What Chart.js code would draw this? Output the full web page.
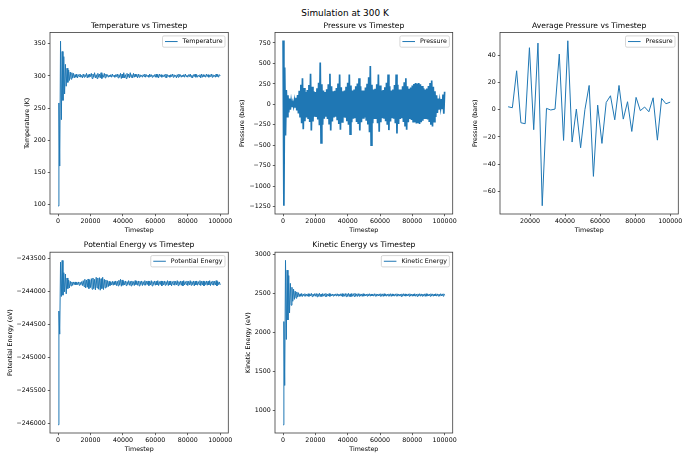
<!DOCTYPE html>
<html>
<head>
<meta charset="utf-8">
<script src="https://cdn.jsdelivr.net/npm/chart.js@4.4.0/dist/chart.umd.min.js"></script>
<style>
  html, body { margin: 0; padding: 0; background: #fff; }
  #wrap { position: relative; width: 690px; height: 460px; overflow: hidden; font-family: 'DejaVu Sans', sans-serif; }
  #suptitle { position: absolute; left: 0; top: 7.3px; width: 690px; text-align: center; font-size: 8.9px; line-height: 12px; color: #000; }
  canvas { position: absolute; }
</style>
</head>
<body>
<div id="wrap">
  <div id="suptitle">Simulation at 300 K</div>
  <canvas id="c1"></canvas>
  <canvas id="c2"></canvas>
  <canvas id="c3"></canvas>
  <canvas id="c4"></canvas>
  <canvas id="c5"></canvas>
</div>
<script>
// timesteps shared by the four raw series
var timesteps = [
  0, 500, 1000, 1500, 2000, 2500, 3000, 3500, 4000, 4500,
  5000, 5500, 6000, 6500, 7000, 7500, 8000, 8500, 9000, 9500,
  10000, 10500, 11000, 11500, 12000, 12500, 13000, 13500, 14000, 14500,
  15000, 15500, 16000, 16500, 17000, 17500, 18000, 18500, 19000, 19500,
  20000, 20500, 21000, 21500, 22000, 22500, 23000, 23500, 24000, 24500,
  25000, 25500, 26000, 26500, 27000, 27500, 28000, 28500, 29000, 29500,
  30000, 30500, 31000, 31500, 32000, 32500, 33000, 33500, 34000, 34500,
  35000, 35500, 36000, 36500, 37000, 37500, 38000, 38500, 39000, 39500,
  40000, 40500, 41000, 41500, 42000, 42500, 43000, 43500, 44000, 44500,
  45000, 45500, 46000, 46500, 47000, 47500, 48000, 48500, 49000, 49500,
  50000, 50500, 51000, 51500, 52000, 52500, 53000, 53500, 54000, 54500,
  55000, 55500, 56000, 56500, 57000, 57500, 58000, 58500, 59000, 59500,
  60000, 60500, 61000, 61500, 62000, 62500, 63000, 63500, 64000, 64500,
  65000, 65500, 66000, 66500, 67000, 67500, 68000, 68500, 69000, 69500,
  70000, 70500, 71000, 71500, 72000, 72500, 73000, 73500, 74000, 74500,
  75000, 75500, 76000, 76500, 77000, 77500, 78000, 78500, 79000, 79500,
  80000, 80500, 81000, 81500, 82000, 82500, 83000, 83500, 84000, 84500,
  85000, 85500, 86000, 86500, 87000, 87500, 88000, 88500, 89000, 89500,
  90000, 90500, 91000, 91500, 92000, 92500, 93000, 93500, 94000, 94500,
  95000, 95500, 96000, 96500, 97000, 97500, 98000, 98500, 99000, 99500,
  100000
];

var temperature = [
  98, 258, 160, 354, 232, 338, 262, 330, 272, 318,
  284, 312, 290, 309, 293, 306, 295, 305, 297, 304,
  297, 302, 298, 303, 297, 302, 299, 303, 298, 301,
  297, 303, 298, 302, 299, 304, 297, 302, 298, 303,
  299, 304, 296, 303, 298, 305, 297, 302, 296, 304,
  298, 303, 297, 305, 296, 302, 298, 304, 297, 303,
  299, 302, 298, 301, 299, 302, 298, 303, 299, 301,
  298, 302, 299, 303, 297, 302, 298, 304, 296, 303,
  297, 305, 297, 302, 296, 304, 298, 303, 297, 305,
  298, 302, 297, 304, 298, 303, 299, 302, 297, 303,
  298, 302, 299, 301, 298, 302, 299, 303, 298, 302,
  299, 301, 298, 303, 299, 302, 298, 301, 299, 302,
  298, 303, 298, 302, 297, 303, 299, 302, 298, 301,
  299, 302, 298, 303, 297, 302, 299, 301, 298, 302,
  299, 303, 298, 302, 299, 301, 297, 302, 298, 303,
  299, 302, 298, 301, 299, 302, 298, 303, 299, 301,
  298, 302, 299, 303, 298, 301, 297, 302, 299, 303,
  298, 302, 298, 301, 299, 302, 297, 303, 298, 302,
  299, 301, 298, 303, 299, 302, 298, 301, 299, 303,
  298, 302, 299, 301, 298, 303, 299, 302, 298, 302,
  300
];

var pressure = [
  780, -1240, 450, -380, 175, -150, 110, -100, 70, -65,
  40, -35, 22, -25, 45, -40, 80, -75, 115, -110,
  165, -150, 240, -230, 320, -305, 200, -205, 150, -160,
  175, -170, 235, -215, 375, -320, 215, -210, 160, -150,
  150, -155, 195, -185, 265, -255, 510, -470, 245, -250,
  170, -175, 150, -150, 185, -180, 245, -235, 375, -320,
  220, -210, 160, -160, 165, -150, 200, -195, 255, -240,
  365, -310, 210, -215, 160, -160, 170, -165, 215, -205,
  265, -250, 365, -365, 230, -220, 170, -175, 180, -170,
  220, -215, 255, -240, 320, -320, 220, -220, 170, -165,
  170, -160, 205, -200, 250, -245, 330, -340, 470, -500,
  240, -230, 180, -180, 190, -180, 245, -230, 365, -335,
  230, -220, 170, -170, 175, -165, 210, -205, 265, -250,
  365, -315, 220, -210, 170, -160, 180, -175, 235, -230,
  365, -355, 240, -240, 180, -180, 180, -170, 220, -215,
  270, -260, 320, -310, 220, -220, 190, -180, 205, -190,
  230, -210, 250, -220, 260, -235, 255, -230, 260, -240,
  245, -220, 225, -200, 195, -180, 180, -170, 195, -185,
  225, -215, 260, -250, 290, -270, 215, -210, 160, -155,
  110, -105, 70, -65, 40, -40, 65, -60, 120, -115,
  155
];

var potentialEnergy = [
  -246020, -244300, -244650, -243560, -244080, -243535, -244060, -243720, -244010, -243740,
  -244040, -243800, -243960, -243830, -243950, -243850, -243920, -243860, -243910, -243860,
  -243900, -243860, -243905, -243865, -243900, -243860, -243910, -243865, -243900, -243855,
  -243915, -243840, -243930, -243820, -243950, -243830, -243940, -243815, -243960, -243830,
  -243945, -243810, -243970, -243800, -243960, -243820, -243980, -243790, -243950, -243800,
  -243970, -243795, -243985, -243810, -243960, -243790, -243975, -243820, -243950, -243830,
  -243940, -243840, -243930, -243850, -243915, -243860, -243905, -243850, -243910, -243855,
  -243900, -243845, -243915, -243850, -243920, -243835, -243905, -243820, -243925, -243830,
  -243910, -243850, -243905, -243845, -243915, -243855, -243900, -243840, -243910, -243850,
  -243920, -243845, -243905, -243855, -243915, -243840, -243900, -243850, -243910, -243845,
  -243920, -243850, -243900, -243845, -243915, -243855, -243905, -243840, -243910, -243850,
  -243900, -243845, -243915, -243850, -243905, -243840, -243920, -243855, -243900, -243845,
  -243910, -243850, -243905, -243840, -243915, -243855, -243900, -243845, -243920, -243850,
  -243905, -243845, -243910, -243855, -243900, -243840, -243915, -243850, -243905, -243845,
  -243920, -243855, -243900, -243845, -243910, -243850, -243905, -243840, -243915, -243855,
  -243900, -243845, -243910, -243850, -243920, -243840, -243905, -243855, -243900, -243845,
  -243915, -243850, -243905, -243840, -243910, -243855, -243900, -243845, -243920, -243850,
  -243905, -243845, -243910, -243855, -243900, -243840, -243915, -243850, -243905, -243845,
  -243920, -243855, -243900, -243845, -243910, -243850, -243905, -243840, -243915, -243855,
  -243900, -243845, -243910, -243850, -243905, -243840, -243920, -243855, -243900, -243860,
  -243905
];

var kineticEnergy = [
  815, 2140, 1320, 2925, 1910, 2800, 2160, 2730, 2250, 2630,
  2350, 2580, 2400, 2555, 2425, 2530, 2440, 2520, 2455, 2510,
  2460, 2495, 2465, 2500, 2462, 2494, 2468, 2498, 2464, 2492,
  2466, 2497, 2463, 2495, 2468, 2502, 2460, 2494, 2466, 2498,
  2465, 2500, 2458, 2496, 2464, 2503, 2460, 2494, 2462, 2499,
  2466, 2496, 2463, 2501, 2460, 2494, 2467, 2499, 2463, 2495,
  2468, 2494, 2467, 2492, 2470, 2495, 2466, 2497, 2468, 2493,
  2467, 2496, 2466, 2498, 2462, 2495, 2465, 2500, 2460, 2497,
  2463, 2502, 2461, 2495, 2460, 2500, 2465, 2497, 2462, 2503,
  2464, 2495, 2462, 2499, 2465, 2496, 2467, 2494, 2463, 2497,
  2466, 2494, 2468, 2493, 2466, 2495, 2468, 2497, 2465, 2494,
  2468, 2493, 2466, 2497, 2467, 2495, 2465, 2493, 2468, 2495,
  2466, 2497, 2465, 2495, 2463, 2497, 2467, 2494, 2465, 2493,
  2468, 2495, 2465, 2497, 2463, 2495, 2467, 2493, 2466, 2495,
  2468, 2497, 2465, 2494, 2467, 2493, 2463, 2495, 2465, 2497,
  2467, 2495, 2466, 2493, 2468, 2495, 2465, 2497, 2467, 2493,
  2465, 2494, 2467, 2497, 2465, 2493, 2463, 2495, 2467, 2497,
  2465, 2495, 2466, 2493, 2467, 2495, 2463, 2497, 2466, 2495,
  2468, 2493, 2465, 2497, 2467, 2495, 2465, 2493, 2468, 2497,
  2466, 2495, 2467, 2493, 2465, 2497, 2468, 2495, 2466, 2496,
  2478
];

// block averaged pressure
var avgSteps = [
  7500, 9930, 12370, 14800, 17240, 19670, 22110, 24540, 26970, 29410,
  31840, 34280, 36710, 39150, 41580, 44010, 46450, 48880, 51320, 53750,
  56180, 58620, 61050, 63490, 65920, 68360, 70790, 73220, 75660, 78090,
  80530, 82960, 85390, 87830, 90260, 92700, 95130, 97570, 100000
];
var avgPressure = [
  2.2, 1.5, 28.7, -9.6, -10.3, 45.7, -14.7, 49.1, -70.7, 1.0,
  -0.2, 0.5, 41.0, -22.6, 50.8, -23.8, 0.5, -28.0, 0.0, 17.9,
  -49.1, 3.4, -24.8, 5.4, 10.3, -7.4, 17.9, -6.9, 5.9, -16.0,
  9.1, -0.7, 2.0, -1.5, 8.8, -22.4, 8.3, 4.4, 5.6
];

// tick labels
var stepTicks = [0, 20000, 40000, 60000, 80000, 100000];
var avgStepTicks = [20000, 40000, 60000, 80000, 100000];
var tempTicks = [100, 150, 200, 250, 300, 350];
var pressureTicks = [-1250, -1000, -750, -500, -250, 0, 250, 500, 750];
var avgPressureTicks = [-60, -40, -20, 0, 20, 40];
var peTicks = [-246000, -245500, -245000, -244500, -244000, -243500];
var keTicks = [1000, 1500, 2000, 2500, 3000];

var BLUE = '#1f77b4';
var SPINE = '#3c3c3c';
var FAMILY = "'DejaVu Sans', sans-serif";
var tickFont = { family: FAMILY, size: 6.3, weight: 'normal' };
var titleFont = { family: FAMILY, size: 7.6, weight: 'normal' };

Chart.defaults.color = '#000';
Chart.defaults.font.family = FAMILY;

function fmt(v) {
  return v < 0 ? '\u2212' + Math.abs(v) : String(v);
}

// draw the box around the axes, like matplotlib spines
var framePlugin = {
  id: 'frame',
  afterDraw: function(chart) {
    var a = chart.chartArea, ctx = chart.ctx;
    ctx.save();
    ctx.strokeStyle = SPINE;
    ctx.lineWidth = 0.8;
    ctx.strokeRect(a.left, a.top, a.right - a.left, a.bottom - a.top);
    ctx.restore();
  }
};

// legend in the upper right corner, inside the axes
var legendPlugin = {
  id: 'innerLegend',
  afterDraw: function(chart) {
    var a = chart.chartArea, ctx = chart.ctx;
    var label = chart.data.datasets[0].label;
    ctx.save();
    ctx.font = '6.3px ' + FAMILY;
    var tw = ctx.measureText(label).width;
    var pad = 2.5, hl = 12.6, gap = 5, h = 11.3;
    var w = pad + hl + gap + tw + pad;
    var x = a.right - 3.3 - w, y = a.top + 3.4;
    ctx.beginPath();
    if (ctx.roundRect) ctx.roundRect(x, y, w, h, 1.5); else ctx.rect(x, y, w, h);
    ctx.fillStyle = 'rgba(255,255,255,0.8)';
    ctx.fill();
    ctx.strokeStyle = '#cccccc';
    ctx.lineWidth = 0.8;
    ctx.stroke();
    ctx.beginPath();
    ctx.moveTo(x + pad, y + h / 2);
    ctx.lineTo(x + pad + hl, y + h / 2);
    ctx.strokeStyle = BLUE;
    ctx.lineWidth = 1;
    ctx.stroke();
    ctx.fillStyle = '#000';
    ctx.textBaseline = 'middle';
    ctx.fillText(label, x + pad + hl + gap, y + h / 2 + 0.3);
    ctx.restore();
  }
};

function makePanel(p) {
  var cv = document.getElementById(p.id);
  cv.width = p.w;
  cv.height = p.h;
  cv.style.left = p.left + 'px';
  cv.style.top = p.top + 'px';
  cv.style.width = p.w + 'px';
  cv.style.height = p.h + 'px';

  return new Chart(cv, {
    type: 'line',
    data: {
      datasets: [{
        label: p.label,
        data: p.xs.map(function(x, i) { return { x: x, y: p.ys[i] }; }),
        borderColor: BLUE,
        borderWidth: p.lw || 1,
        pointRadius: 0,
        fill: false,
        tension: 0
      }]
    },
    options: {
      responsive: false,
      animation: false,
      events: [],
      layout: { padding: { left: 0, top: 0, bottom: 0, right: p.padRight } },
      plugins: {
        legend: { display: false },
        tooltip: { enabled: false },
        title: {
          display: true,
          text: p.title,
          fullSize: false,
          font: titleFont,
          color: '#000',
          padding: { top: p.tTop, bottom: p.tBottom }
        }
      },
      scales: {
        x: {
          type: 'linear',
          bounds: 'data',
          min: p.xMin,
          max: p.xMax,
          afterBuildTicks: function(s) { s.ticks = p.xTicks.map(function(v) { return { value: v }; }); },
          afterFit: function(s) { s.height = 22; },
          grid: { drawOnChartArea: false, drawTicks: true, tickLength: 2.2, color: SPINE, lineWidth: 0.8 },
          border: { display: false },
          ticks: { autoSkip: false, maxRotation: 0, padding: 1.8, font: tickFont, color: '#000', callback: fmt },
          title: { display: true, text: 'Timestep', font: tickFont, color: '#000', padding: { top: 0, bottom: 1.7 } }
        },
        y: {
          type: 'linear',
          bounds: 'data',
          min: p.yMin,
          max: p.yMax,
          afterBuildTicks: function(s) { s.ticks = p.yTicks.map(function(v) { return { value: v }; }); },
          afterFit: function(s) { s.width = p.yW; },
          grid: { drawOnChartArea: false, drawTicks: true, tickLength: 2.2, color: SPINE, lineWidth: 0.8 },
          border: { display: false },
          ticks: { autoSkip: false, padding: 2.1, font: tickFont, color: '#000', callback: fmt },
          title: { display: true, text: p.yLabel, font: tickFont, color: '#000', padding: { top: p.yTitlePad, bottom: 0 } }
        }
      }
    },
    plugins: [framePlugin, legendPlugin]
  });
}

// top row
makePanel({
  id: 'c1', left: 0, top: 14, w: 250, h: 222, padRight: 21.7, yW: 50, yTitlePad: 23.5,
  tTop: 7.44, tBottom: 1.94,
  title: 'Temperature vs Timestep', label: 'Temperature', yLabel: 'Temperature (K)',
  xs: timesteps, ys: temperature, xMin: -5000, xMax: 105000, xTicks: stepTicks,
  yMin: 85.5, yMax: 367.5, yTicks: tempTicks
});
makePanel({
  id: 'c2', left: 230, top: 14, w: 245, h: 222, padRight: 22.3, yW: 45, yTitlePad: 8.9,
  tTop: 7.44, tBottom: 1.94, lw: 1.7,
  title: 'Pressure vs Timestep', label: 'Pressure', yLabel: 'Pressure (bars)',
  xs: timesteps, ys: pressure, xMin: -5000, xMax: 105000, xTicks: stepTicks,
  yMin: -1340, yMax: 878, yTicks: pressureTicks
});
makePanel({
  id: 'c3', left: 460, top: 14, w: 230, h: 222, padRight: 11.7, yW: 40, yTitlePad: 11.2,
  tTop: 7.44, tBottom: 1.94,
  title: 'Average Pressure vs Timestep', label: 'Pressure', yLabel: 'Pressure (bars)',
  xs: avgSteps, ys: avgPressure, xMin: 2875, xMax: 104625, xTicks: avgStepTicks,
  yMin: -76.8, yMax: 56.9, yTicks: avgPressureTicks
});

// bottom row
makePanel({
  id: 'c4', left: 0, top: 234, w: 250, h: 221, padRight: 21.7, yW: 50, yTitlePad: 6.2,
  tTop: 6.44, tBottom: 2.64,
  title: 'Potential Energy vs Timestep', label: 'Potential Energy', yLabel: 'Potential Energy (eV)',
  xs: timesteps, ys: potentialEnergy, xMin: -5000, xMax: 105000, xTicks: stepTicks,
  yMin: -246145, yMax: -243410, yTicks: peTicks
});
makePanel({
  id: 'c5', left: 230, top: 234, w: 245, h: 221, padRight: 22.3, yW: 45, yTitlePad: 14.5,
  tTop: 6.44, tBottom: 2.64,
  title: 'Kinetic Energy vs Timestep', label: 'Kinetic Energy', yLabel: 'Kinetic Energy (eV)',
  xs: timesteps, ys: kineticEnergy, xMin: -5000, xMax: 105000, xTicks: stepTicks,
  yMin: 710, yMax: 3030, yTicks: keTicks
});
</script>
</body>
</html>
